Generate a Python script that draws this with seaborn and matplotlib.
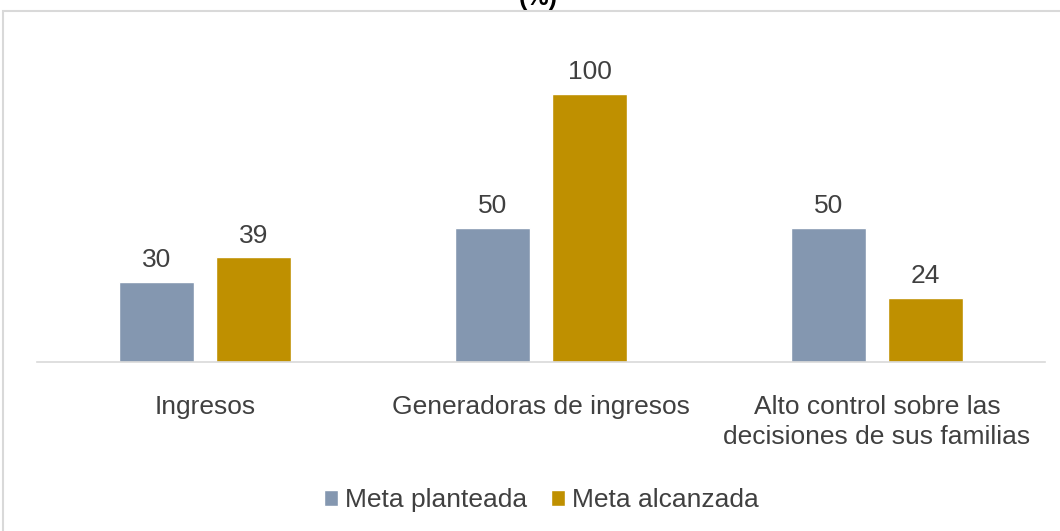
import numpy as np
import pandas as pd
import matplotlib.pyplot as plt
import seaborn as sns
from matplotlib.patches import Rectangle

categories = ["Ingresos", "Generadoras de ingresos",
              "Alto control sobre las\ndecisiones de sus familias"]
series_names = ["Meta planteada", "Meta alcanzada"]
meta_planteada = [30, 50, 50]
meta_alcanzada = [39, 100, 24]
colors = ["#8497B0", "#BF9000"]


def main():
    sns.set_style("white")
    plt.rcParams["font.family"] = ["Liberation Sans", "DejaVu Sans"]

    df = pd.DataFrame({
        "categoria": categories * 2,
        "serie": [series_names[0]] * 3 + [series_names[1]] * 3,
        "valor": meta_planteada + meta_alcanzada,
    })

    fig = plt.figure(figsize=(10.6, 5.31), dpi=100)
    ax = fig.add_axes([37 / 1060, 169 / 531, 1008 / 1060, 321.6 / 531])

    sns.barplot(data=df, x="categoria", y="valor", hue="serie",
                palette=colors, width=0.578, gap=0.22, ax=ax,
                errorbar=None, saturation=1)

    for cont in ax.containers:
        ax.bar_label(cont, fmt="%d", padding=7, fontsize=19, color="#404040")

    ax.set_xlim(-0.5, 2.5)
    ax.set_ylim(0, 120)
    ax.set_xlabel("")
    ax.set_ylabel("")
    ax.set_yticks([])
    for s in ["top", "right", "left"]:
        ax.spines[s].set_visible(False)
    ax.spines["bottom"].set_color("#D9D9D9")
    ax.spines["bottom"].set_linewidth(1.2)
    ax.tick_params(axis="x", length=0, pad=24, labelsize=19, labelcolor="#404040")
    for lab in ax.get_xticklabels():
        lab.set_linespacing(1.3)

    ax.legend(loc="center", bbox_to_anchor=(0.5, -0.43), ncol=2, frameon=False,
              fontsize=19, labelcolor="#404040", handlelength=0.55,
              handleheight=0.55, handletextpad=0.25, columnspacing=0.9)

    # chart border, partly cropped
    fig.patches.append(Rectangle((3 / 1060, -0.1), 1.2, 1.1 - 11 / 531,
                                 transform=fig.transFigure, fill=False,
                                 edgecolor="#D9D9D9", linewidth=1.5))
    fig.text(538 / 1060, 1 - 5 / 531, "(%)", ha="center", va="baseline",
             fontsize=18, fontweight="bold", color="black")

    fig.savefig("out.png", dpi=100)


if __name__ == "__main__":
    main()
